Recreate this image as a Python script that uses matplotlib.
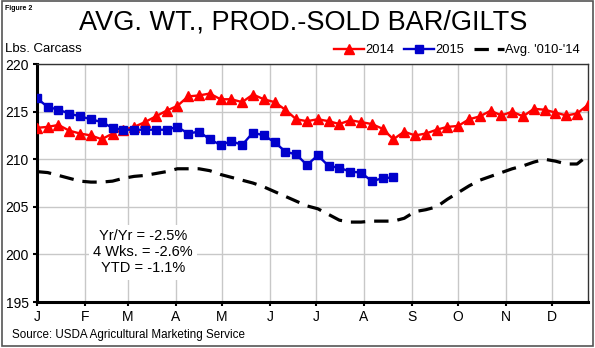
import numpy as np
import matplotlib.pyplot as plt
from matplotlib.patches import Rectangle

plt.rcParams['font.family'] = ['Liberation Sans', 'DejaVu Sans']

# weekly values, lbs carcass
y2014 = [213.3, 213.4, 213.6, 213.0, 212.7, 212.5, 212.1, 212.7, 213.1, 213.4,
         213.9, 214.5, 215.1, 215.6, 216.6, 216.7, 216.9, 216.3, 216.3, 216.0,
         216.8, 216.3, 216.0, 215.2, 214.2, 214.0, 214.2, 214.0, 213.7, 214.1,
         213.9, 213.7, 213.2, 212.1, 212.9, 212.5, 212.7, 213.1, 213.4, 213.5,
         214.2, 214.5, 215.1, 214.6, 215.0, 214.5, 215.3, 215.2, 214.9, 214.6,
         214.8, 215.7]
y2015 = [216.4, 215.5, 215.2, 214.8, 214.5, 214.2, 213.9, 213.3, 213.1, 213.1,
         213.1, 213.1, 213.1, 213.4, 212.7, 212.9, 212.1, 211.5, 211.9, 211.5,
         212.8, 212.5, 211.8, 210.8, 210.5, 209.4, 210.4, 209.3, 209.1, 208.7,
         208.6, 207.7, 208.0, 208.1]
avg = [208.7, 208.6, 208.3, 208.0, 207.7, 207.6, 207.6, 207.7, 208.0, 208.2,
       208.3, 208.5, 208.7, 209.0, 209.0, 209.0, 208.8, 208.4, 208.1, 207.8,
       207.5, 207.1, 206.6, 206.1, 205.6, 205.1, 204.8, 204.2, 203.6, 203.4,
       203.4, 203.5, 203.5, 203.5, 203.8, 204.5, 204.7, 205.0, 205.8, 206.5,
       207.2, 207.8, 208.2, 208.6, 209.0, 209.3, 209.7, 210.0, 209.8, 209.5,
       209.5, 210.4]

months = ['J', 'F', 'M', 'A', 'M', 'J', 'J', 'A', 'S', 'O', 'N', 'D']
month_start_day = [0, 31, 59, 90, 120, 151, 181, 212, 243, 273, 304, 334]

fig = plt.figure(figsize=(5.95, 3.48), dpi=100)
fig.patches.append(Rectangle((0.004, 0.006), 0.992, 0.99, transform=fig.transFigure,
                             fill=False, edgecolor='#555555', linewidth=1.2))
ax = fig.add_axes([0.062, 0.132, 0.926, 0.684])

ax.plot(np.arange(len(avg)), avg, color='black', linewidth=2.3,
        dashes=(4.5, 2.8), label="Avg. '010-'14", zorder=3)
ax.plot(np.arange(len(y2014)), y2014, color='#ff0000', linewidth=1.7,
        marker='^', markersize=6.5, label='2014', zorder=4)
ax.plot(np.arange(len(y2015)), y2015, color='#0000cc', linewidth=1.7,
        marker='s', markersize=5.5, label='2015', zorder=5)

ax.set_xlim(0, 51)
ax.set_ylim(195, 220)
ax.set_yticks([195, 200, 205, 210, 215, 220])
ax.set_xticks([d / 7 for d in month_start_day])
ax.set_xticklabels(months)
ax.tick_params(labelsize=10, length=3, width=1.5, pad=3)
ax.grid(True, color='#c8c8c8', linewidth=1)
ax.set_axisbelow(True)
for s in ['left', 'bottom']:
    ax.spines[s].set_linewidth(2.2)
for s in ['top', 'right']:
    ax.spines[s].set_linewidth(1)
    ax.spines[s].set_color('#333333')

h, l = ax.get_legend_handles_labels()
order = [1, 2, 0]
ax.legend([h[i] for i in order], [l[i] for i in order], loc='lower right',
          bbox_to_anchor=(1.0, 1.0), ncol=3, frameon=False, fontsize=9.3,
          handlelength=2.3, handletextpad=0.1, columnspacing=0.8, borderaxespad=0.2)

ax.text(0.192, 0.21, 'Yr/Yr = -2.5%\n4 Wks. = -2.6%\nYTD = -1.1%',
        transform=ax.transAxes, ha='center', va='center', fontsize=10.5,
        linespacing=1.2, bbox=dict(facecolor='white', edgecolor='none', pad=3))

fig.text(0.51, 0.934, 'AVG. WT., PROD.-SOLD BAR/GILTS', ha='center', va='center',
         fontsize=19.5)
fig.text(0.009, 0.977, 'Figure 2', fontsize=5, fontweight='bold', va='center')
fig.text(0.009, 0.858, 'Lbs. Carcass', fontsize=9.5, va='center')
fig.text(0.021, 0.037, 'Source: USDA Agricultural Marketing Service', fontsize=8.4,
         va='center')

fig.savefig('out.png', dpi=100)
